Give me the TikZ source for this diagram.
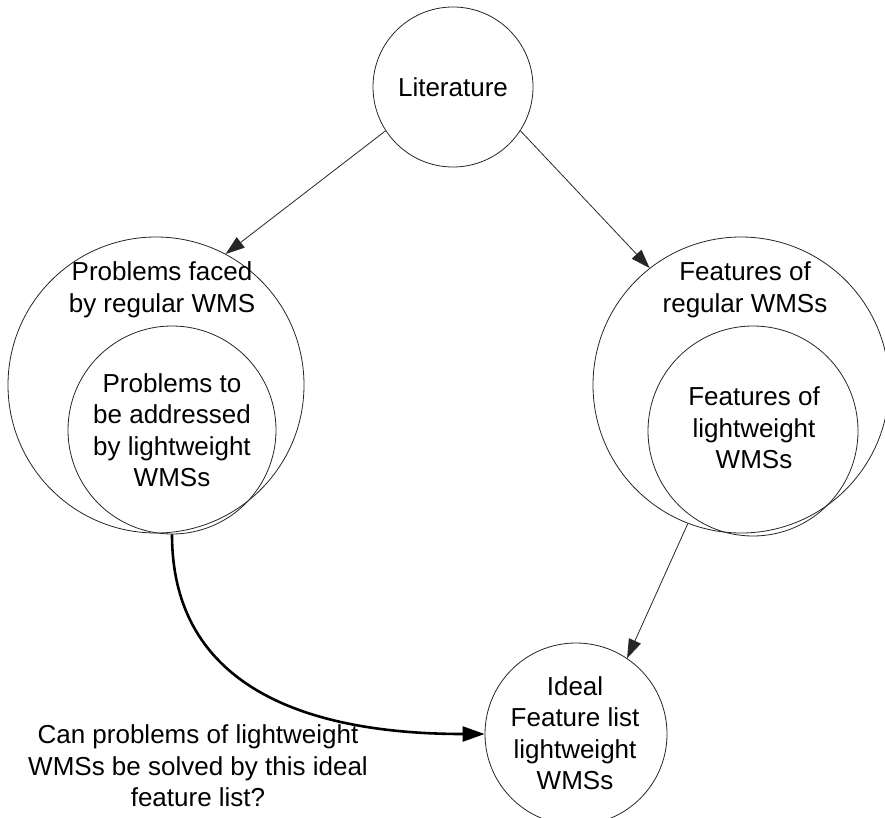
\documentclass[tikz,border=0pt]{standalone}
\usepackage{fontspec}
\setmainfont{Liberation Sans}
\usetikzlibrary{arrows.meta}
\begin{document}
\begin{tikzpicture}[x=1pt,y=-1pt,
  circ/.style={draw=black!85, circle, line width=0.8pt, inner sep=0pt, minimum size=#1},
  lbl/.style={align=center, font=\fontsize{26}{31.5}\selectfont, inner sep=0pt},
  thin arrow/.style={draw=black!85, line width=0.8pt, -{Triangle[length=19pt,width=13pt]}},
  thick arrow/.style={draw=black, line width=2.6pt, -{Triangle[length=22pt,width=15pt]}}]
\useasboundingbox (0,0) rectangle (885,818);
% circles
\node[circ=160pt] (lit) at (453,87) {};
\node[circ=296pt] (pbig) at (156,385) {};
\node[circ=208pt] (pin) at (172,430) {};
\node[circ=296pt] (fbig) at (741,385) {};
\node[circ=210pt] (fin) at (753,431) {};
\node[circ=182pt] (ideal) at (576,734) {};
% labels
\node[lbl] (tlit) at (453,87) {Literature};
\node[lbl] (tpbig) at (162,290) {Problems faced\\by regular WMS};
\node[lbl] (tpin) at (172,430) {Problems to\\be addressed\\by lightweight\\WMSs};
\node[lbl] (tfbig) at (745,290) {Features of\\regular WMSs};
\node[lbl] (tfin) at (754,428) {Features of\\lightweight\\WMSs};
\node[lbl] (tideal) at (575,733) {Ideal\\Feature list\\lightweight\\WMSs};
\node[lbl] (q) at (198,766) {Can problems of lightweight\\WMSs be solved by this ideal\\feature list?};
% connectors
\draw[thin arrow] (lit.213) -- (pbig.62);
\draw[thin arrow] (lit.327) -- (fbig.128);
\draw[thin arrow] (fbig.249) -- (ideal.56);
\draw[thick arrow] (pin.270) .. controls (172,700) and (330,734) .. (ideal.180);
\end{tikzpicture}
\end{document}
